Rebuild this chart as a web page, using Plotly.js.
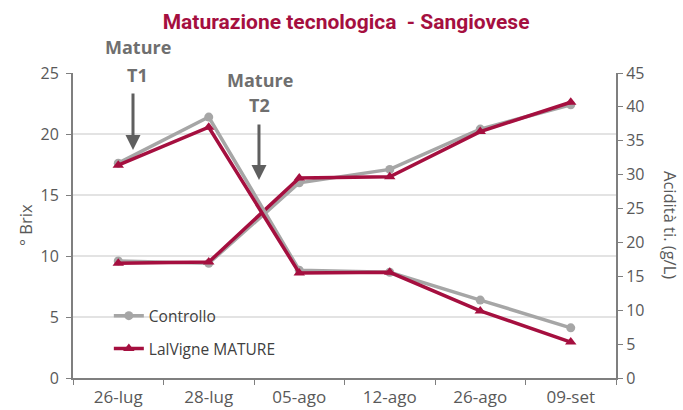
<!DOCTYPE html>
<html>
<head>
<meta charset="utf-8">
<script src="https://cdn.plot.ly/plotly-3.0.1.min.js"></script>
<style>html,body{margin:0;padding:0;background:#fff}#chart{width:683px;height:410px}</style>
</head>
<body>
<div id="chart"></div>
<script>
// ---- data ----
const dates = ["26-lug", "28-lug", "05-ago", "12-ago", "26-ago", "09-set"];
const brixControllo = [9.6, 9.4, 16.0, 17.1, 20.4, 22.4];
const brixLalVigne = [9.4, 9.5, 16.4, 16.5, 20.2, 22.6];
const acidControllo = [31.7, 38.5, 15.9, 15.6, 11.5, 7.4];
const acidLalVigne = [31.4, 37.0, 15.5, 15.6, 9.9, 5.3];
const seriesNames = ["Controllo", "LalVigne MATURE"];
const leftTicks = [0, 5, 10, 15, 20, 25];
const rightTicks = [0, 5, 10, 15, 20, 25, 30, 35, 40, 45];

const GREY = "#a6a6a6";
const RED = "#a50f3f";
const AX = "#7f7f7f";
const TXT = "#595959";
const FONT = "Open Sans, sans-serif";

const greyStyle = {color: GREY, width: 3.5};
const redStyle = {color: RED, width: 3.5};
const greyMarker = {symbol: "circle", size: 9, color: GREY};
const redMarker = {symbol: "triangle-up", size: 10, color: RED};

const traces = [
  {x: dates, y: brixControllo, yaxis: "y", mode: "lines+markers", line: greyStyle, marker: greyMarker, name: seriesNames[0], legend: "legend", showlegend: true},
  {x: dates, y: acidControllo, yaxis: "y2", mode: "lines+markers", line: greyStyle, marker: greyMarker, name: seriesNames[0], showlegend: false},
  {x: dates, y: brixLalVigne, yaxis: "y", mode: "lines+markers", line: redStyle, marker: redMarker, name: seriesNames[1], legend: "legend2", showlegend: true},
  {x: dates, y: acidLalVigne, yaxis: "y2", mode: "lines+markers", line: redStyle, marker: redMarker, name: seriesNames[1], showlegend: false}
];

const annFont = {family: FONT, size: 18, color: "#6f6f6f", weight: "bold"};
const ann = (x, y, text, extra) => Object.assign({xref: "paper", yref: "paper", x: x, y: y, text: text, showarrow: false,
  xanchor: "center", yanchor: "middle"}, extra || {});
const layout = {
  width: 683, height: 410,
  margin: {l: 73, r: 67, t: 73, b: 32},
  paper_bgcolor: "#fff", plot_bgcolor: "#fff",
  font: {family: FONT, color: TXT},
  title: {text: "<b>Maturazione tecnologica  - Sangiovese</b>", font: {family: "Liberation Sans Narrow, Roboto, sans-serif", size: 21, color: RED},
          x: 0.503, xanchor: "center", xref: "paper", y: 0.946, yanchor: "middle", yref: "container"},
  xaxis: {type: "category", range: [-0.5, 5.5], tickson: "boundaries", ticks: "outside", ticklen: 5, tickcolor: AX,
          showline: true, linecolor: AX, linewidth: 2, showgrid: false, zeroline: false,
          tickfont: {size: 17, color: TXT}, ticklabelstandoff: 3},
  yaxis: {range: [0, 25], tickvals: leftTicks, ticks: "outside", ticklen: 5, tickcolor: AX,
          showline: true, linecolor: AX, linewidth: 2, gridcolor: "#e3e3e3", gridwidth: 1.5, zeroline: false,
          tickfont: {size: 16, color: TXT}, ticklabelstandoff: 4},
  yaxis2: {range: [0, 45], tickvals: rightTicks, overlaying: "y", side: "right", ticks: "outside", ticklen: 5, tickcolor: AX,
           showline: true, linecolor: AX, linewidth: 2, showgrid: false, zeroline: false,
           tickfont: {size: 16, color: TXT}},
  legend: {x: 0.066, y: 0.203, xanchor: "left", yanchor: "middle", bgcolor: "rgba(0,0,0,0)", font: {size: 15.5, color: "#404040"}},
  legend2: {x: 0.066, y: 0.095, xanchor: "left", yanchor: "middle", bgcolor: "rgba(0,0,0,0)", font: {size: 15.5, color: "#404040"}},
  annotations: [
    ann(0.1197, 1.085, "Mature", {font: annFont}),
    ann(0.1197, 0.993, "T1", {font: annFont}),
    ann(0.344, 0.977, "Mature", {font: annFont}),
    ann(0.344, 0.895, "T2", {font: annFont}),
    {xref: "paper", yref: "paper", x: 0.1105, y: 0.7475, text: "", showarrow: true, ax: 0, ay: -58, arrowhead: 2, arrowsize: 1, arrowwidth: 3, arrowcolor: "#5f5f5f"},
    {xref: "paper", yref: "paper", x: 0.3425, y: 0.649, text: "", showarrow: true, ax: 0, ay: -57, arrowhead: 2, arrowsize: 1, arrowwidth: 3, arrowcolor: "#5f5f5f"},
    ann(-0.0884, 0.5016, "° Brix", {textangle: -90, font: {size: 16.5, color: TXT}}),
    ann(1.1013, 0.5016, "Acidità ti. (g/L)", {textangle: 90, font: {size: 16.5, color: TXT}})
  ]
};

Plotly.newPlot("chart", traces, layout, {displayModeBar: false, staticPlot: true});
</script>
</body>
</html>
